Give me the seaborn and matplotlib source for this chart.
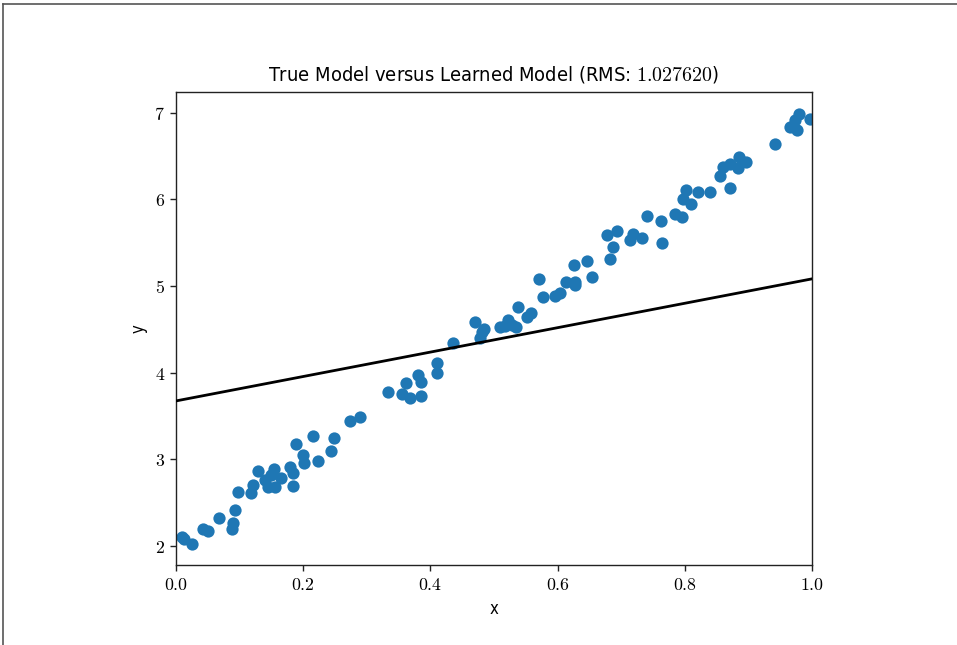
import matplotlib
matplotlib.use("Agg")
import matplotlib.pyplot as plt
from matplotlib.lines import Line2D
from matplotlib.ticker import FuncFormatter
import pandas as pd
import seaborn as sns

# sample points
x_vals = [0.009, 0.0126, 0.0257, 0.043, 0.050, 0.0676, 0.0876, 0.090, 0.0928, 0.098,
          0.118, 0.1205, 0.1295, 0.140, 0.144, 0.150, 0.156, 0.154, 0.1646, 0.179,
          0.1834, 0.1834, 0.188, 0.199, 0.201, 0.215, 0.224, 0.243, 0.248, 0.2736,
          0.289, 0.334, 0.355, 0.3616, 0.368, 0.381, 0.386, 0.386, 0.410, 0.410,
          0.436, 0.470, 0.4806, 0.478, 0.4843, 0.509, 0.5225, 0.535, 0.538, 0.5514,
          0.5577, 0.571, 0.5776, 0.596, 0.604, 0.613, 0.627, 0.627, 0.626, 0.6467,
          0.6536, 0.677, 0.694, 0.6876, 0.6824, 0.719, 0.714, 0.732, 0.741, 0.762,
          0.7637, 0.7846, 0.795, 0.7977, 0.8019, 0.809, 0.820, 0.8396, 0.856, 0.8606,
          0.871, 0.871, 0.884, 0.8857, 0.897, 0.9418, 0.9654, 0.976, 0.980, 0.973,
          0.997, 0.528, 0.517]
y_vals = [2.10, 2.08, 2.023, 2.196, 2.173, 2.327, 2.19, 2.26, 2.416, 2.624,
          2.616, 2.70, 2.866, 2.762, 2.685, 2.82, 2.685, 2.886, 2.78, 2.916,
          2.84, 2.693, 3.178, 3.05, 2.96, 3.274, 2.985, 3.10, 3.244, 3.44,
          3.486, 3.78, 3.755, 3.886, 3.705, 3.975, 3.897, 3.732, 4.117, 3.994,
          4.34, 4.58, 4.475, 4.40, 4.50, 4.53, 4.61, 4.525, 4.756, 4.648,
          4.694, 5.08, 4.879, 4.887, 4.918, 5.05, 5.05, 5.01, 5.245, 5.29,
          5.11, 5.59, 5.64, 5.45, 5.31, 5.60, 5.53, 5.56, 5.81, 5.756,
          5.50, 5.834, 5.796, 6.0, 6.11, 5.95, 6.08, 6.08, 6.27, 6.38,
          6.41, 6.13, 6.36, 6.49, 6.43, 6.64, 6.84, 6.80, 6.99, 6.92,
          6.93, 4.55, 4.54]

# learned model line (endpoints)
line_x = [0.0, 1.0]
line_y = [3.674, 5.083]

x_ticks = [0.0, 0.2, 0.4, 0.6, 0.8, 1.0]
y_ticks = [2, 3, 4, 5, 6, 7]

title = "True Model versus Learned Model (RMS: $1.027620$)"

plt.rcParams["mathtext.fontset"] = "cm"
sans = ["DejaVu Sans"]

pts = pd.DataFrame({"x": x_vals, "y": y_vals})
mdl = pd.DataFrame({"x": line_x, "y": line_y})

fig = plt.figure(figsize=(9.57, 6.45), dpi=100)
ax = fig.add_axes([176 / 957, 80 / 645, 636 / 957, 473 / 645])

sns.scatterplot(data=pts, x="x", y="y", ax=ax, color="#1f77b4", s=78,
                linewidth=0, zorder=2)
sns.lineplot(data=mdl, x="x", y="y", ax=ax, color="black", lw=2.0, zorder=3)

ax.set_xlim(0, 1.0)
ax.set_ylim(1.78, 7.24)
ax.set_xticks(x_ticks)
ax.set_yticks(y_ticks)
ax.xaxis.set_major_formatter(FuncFormatter(lambda v, _: f"${v:.1f}$"))
ax.yaxis.set_major_formatter(FuncFormatter(lambda v, _: f"${int(v)}$"))
ax.tick_params(labelsize=12.8, width=1.0, length=4.5, color="#222222")
for s in ax.spines.values():
    s.set_linewidth(1.0)
    s.set_color("#222222")

ax.set_xlabel("x", family=sans, fontstretch="condensed", fontsize=12, labelpad=4)
ax.set_ylabel("y", family=sans, fontstretch="condensed", fontsize=12, labelpad=5)
ax.set_title(title, family=sans, fontstretch="condensed", fontsize=14.4, pad=8)

# screenshot frame on top and left edges
fig.add_artist(Line2D([3 / 957, 1.0], [1 - 4 / 645, 1 - 4 / 645], color="#555555", lw=1.2))
fig.add_artist(Line2D([3 / 957, 3 / 957], [0.0, 1 - 4 / 645], color="#555555", lw=1.2))

fig.savefig("out.png", dpi=100)
plt.close(fig)
